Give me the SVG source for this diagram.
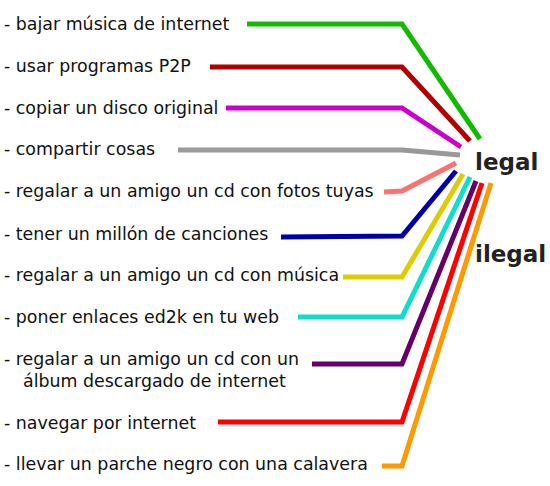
<svg xmlns="http://www.w3.org/2000/svg" width="550" height="486" viewBox="0 0 550 486">
<style>
.t{font-family:"DejaVu Sans",Verdana,sans-serif;font-size:17.4px;fill:#111}
.h{font-family:"DejaVu Sans",Verdana,sans-serif;font-size:23px;font-weight:bold;fill:#222}
#connectors polyline{fill:none;stroke-width:5;stroke-linejoin:miter;stroke-linecap:butt}
</style>
<rect width="550" height="486" fill="#fff"/>
<g id="connectors">
<polyline points="247,24 402,24 480,139" stroke="#11bb00"/>
<polyline points="210,67 402,67 470,141" stroke="#b00000"/>
<polyline points="226,108 402,108 461,147" stroke="#cc00cc"/>
<polyline points="178,150 402,150 460,155" stroke="#999999"/>
<polyline points="384,192 402,191 456,163" stroke="#ff7070"/>
<polyline points="281,237 402,236 456,171" stroke="#0000aa"/>
<polyline points="343,277 402,277 463,174" stroke="#ddcc00"/>
<polyline points="298,317 402,317 470,177" stroke="#11ddcc"/>
<polyline points="312,364 402,364 476,181" stroke="#660066"/>
<polyline points="218,422 402,422 482,183" stroke="#ff0000"/>
<polyline points="382,466 402,466 491,183" stroke="#ff9900"/>
</g>
<g id="n1"><text class="t" x="4" y="30">- bajar música de internet</text></g>
<g id="n2"><text class="t" x="4" y="72">- usar programas P2P</text></g>
<g id="n3"><text class="t" x="4" y="114">- copiar un disco original</text></g>
<g id="n4"><text class="t" x="4" y="155">- compartir cosas</text></g>
<g id="n5"><text class="t" x="4" y="197">- regalar a un amigo un cd con fotos tuyas</text></g>
<g id="n6"><text class="t" x="4" y="240">- tener un millón de canciones</text></g>
<g id="n7"><text class="t" x="4" y="281">- regalar a un amigo un cd con música</text></g>
<g id="n8"><text class="t" x="4" y="323">- poner enlaces ed2k en tu web</text></g>
<g id="n9"><text class="t" x="4" y="365">- regalar a un amigo un cd con un</text><text class="t" x="23" y="387">álbum descargado de internet</text></g>
<g id="n10"><text class="t" x="4" y="429">- navegar por internet</text></g>
<g id="n11"><text class="t" x="4" y="470">- llevar un parche negro con una calavera</text></g>
<g id="legal"><text class="h" x="475" y="170">legal</text></g>
<g id="ilegal"><text class="h" x="475" y="262">ilegal</text></g>
</svg>
